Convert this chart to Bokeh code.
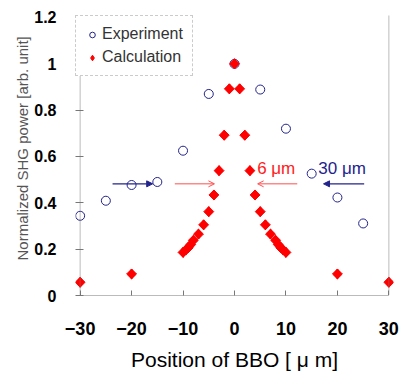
import numpy as np
from bokeh.plotting import figure
from bokeh.models import (Range1d, FixedTicker, Span, Label, Arrow, NormalHead,
                          OpenHead, Legend, LegendItem, Title)
from bokeh.embed import file_html
from bokeh.resources import INLINE

# ---- data ----
exp_x = [-30, -25, -20, -15, -10, -5, 0, 5, 10, 15, 20, 25]
exp_y = [0.344, 0.409, 0.477, 0.490, 0.625, 0.870, 1.000, 0.889, 0.720, 0.526, 0.423, 0.311]

calc_x = [-30, -20, -10, -9.5, -9, -8.5, -8, -7, -6, -5, -4, -3, -2, -1, 0,
          1, 2, 3, 4, 5, 6, 7, 8, 8.5, 9, 9.5, 10, 20, 30]
calc_y = [0.057, 0.093, 0.186, 0.196, 0.206, 0.220, 0.238, 0.265, 0.305, 0.362, 0.434, 0.539, 0.692, 0.892, 1.000,
          0.892, 0.692, 0.539, 0.434, 0.362, 0.305, 0.265, 0.238, 0.220, 0.206, 0.196, 0.186, 0.093, 0.057]

x_ticks = [-30, -20, -10, 0, 10, 20, 30]
y_ticks = [0, 0.2, 0.4, 0.6, 0.8, 1.0, 1.2]
y_tick_labels = ["0", "0.2", "0.4", "0.6", "0.8", "1", "1.2"]

# annotation arrows: (x_start, x_end) at common y
arrow_y = 0.482
blue_arrows = [(-23.7, -15.9), (25.2, 17.3)]
red_arrows = [(-11.6, -3.9), (12.2, 4.5)]
label_6 = (4.4, 0.548, "6 μm")
label_30 = (16.3, 0.548, "30 μm")

FONT = "Liberation Sans"
BLUE = "#23238c"
RED = "#ff0000"

p = figure(width=400, height=376, output_backend="svg", toolbar_location=None,
           x_range=Range1d(-30.9, 30.9), y_range=Range1d(0, 1.2086),
           min_border_left=75, min_border_right=7, min_border_top=15, min_border_bottom=81)
p.outline_line_color = None
p.grid.visible = False
p.background_fill_color = "white"
p.border_fill_color = "white"

# x axis
xa = p.xaxis[0]
xa.ticker = FixedTicker(ticks=x_ticks)
xa.bounds = (-30, 30)
xa.axis_line_color = "#777777"
xa.axis_line_dash = "1 1"
xa.major_tick_line_color = "#777777"
xa.major_tick_in = 5
xa.major_tick_out = 0
xa.minor_tick_line_color = None
xa.major_label_text_font = FONT
xa.major_label_text_font_size = "18px"
xa.major_label_text_font_style = "bold"
xa.major_label_text_color = "black"
xa.major_label_standoff = 26
xa.axis_label = "Position of BBO [ μ m]"
xa.axis_label_text_font = FONT
xa.axis_label_text_font_size = "21px"
xa.axis_label_text_font_style = "normal"
xa.axis_label_text_color = "black"
xa.axis_label_standoff = 10

# y axis
ya = p.yaxis[0]
ya.ticker = FixedTicker(ticks=y_ticks)
ya.major_label_overrides = {t: l for t, l in zip(y_ticks, y_tick_labels)}
ya.axis_line_color = None
ya.major_tick_line_color = "#777777"
ya.major_tick_in = 8
ya.major_tick_out = 0
ya.minor_tick_line_color = None
ya.major_label_text_font = FONT
ya.major_label_text_font_size = "16px"
ya.major_label_text_font_style = "bold"
ya.major_label_text_color = "black"
ya.major_label_standoff = 19

# left and right borders
p.add_layout(Span(location=-30, dimension="height", line_color="#777777", line_dash="1 1", line_width=1))
p.add_layout(Span(location=30, dimension="height", line_color="#777777", line_dash="1 1", line_width=1))

# y title
p.add_layout(Title(text="Normalized SHG power [arb. unit]", align="left", offset=35,
                   text_font=FONT, text_font_size="15px", text_font_style="normal",
                   text_color="#555555", standoff=2), "left")

# data
r_exp = p.scatter(exp_x, exp_y, marker="circle", size=9, fill_color=None,
                  line_color=BLUE, line_width=1)
r_calc_d = p.scatter(calc_x, calc_y, marker="diamond", size=10,
                     fill_color=RED, line_color=RED)
r_calc = p.scatter(calc_x, calc_y, marker="square", angle=np.pi / 4, size=7,
                   fill_color=RED, line_color=RED)

# arrows
for xs, xe in blue_arrows:
    p.add_layout(Arrow(end=NormalHead(size=6, fill_color=BLUE, line_color=BLUE),
                       x_start=xs, y_start=arrow_y, x_end=xe, y_end=arrow_y,
                       line_color=BLUE, line_width=1.2))
for xs, xe in red_arrows:
    p.add_layout(Arrow(end=OpenHead(size=6, line_color="#ff5050", line_width=1),
                       x_start=xs, y_start=arrow_y, x_end=xe, y_end=arrow_y,
                       line_color="#ff5050", line_width=1))

for (lx, ly, txt), col in [(label_6, "#ff2020"), (label_30, BLUE)]:
    p.add_layout(Label(x=lx, y=ly, text=txt, text_align="left", text_baseline="middle",
                       text_font=FONT, text_font_size="17px", text_color=col))

legend = Legend(items=[LegendItem(label="Experiment", renderers=[r_exp]),
                       LegendItem(label="Calculation", renderers=[r_calc_d])],
                location="top_left", margin=0, padding=9, spacing=5,
                glyph_width=14, glyph_height=15, label_height=15, label_standoff=3,
                label_text_font=FONT, label_text_font_size="16px", label_text_color="#333333",
                border_line_color="#999999", border_line_dash="1 1",
                background_fill_color="white", background_fill_alpha=1)
p.add_layout(legend)

open("out.html", "w").write(file_html(p, INLINE))
